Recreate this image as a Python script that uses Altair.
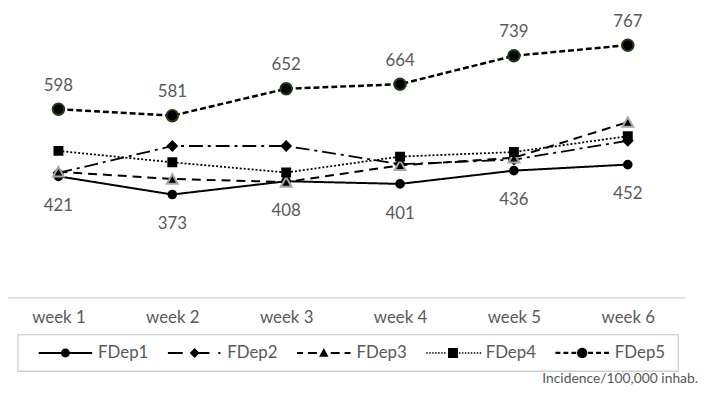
import altair as alt
import pandas as pd

# ---------------- data ----------------
weeks = ["week 1", "week 2", "week 3", "week 4", "week 5", "week 6"]
series = ["FDep1", "FDep2", "FDep3", "FDep4", "FDep5"]
fdep1 = [421, 373, 408, 401, 436, 452]
fdep2 = [430, 501, 501, 453, 465, 515]
fdep3 = [433, 414, 406, 450, 470, 564]
fdep4 = [488, 458, 431, 473, 485, 527]
fdep5 = [598, 581, 652, 664, 739, 767]
labelled_low = "FDep1"
labelled_high = "FDep5"
unit_note = "Incidence/100,000 inhab."

rows = []
for s, vals in zip(series, [fdep1, fdep2, fdep3, fdep4, fdep5]):
    for w, v in zip(weeks, vals):
        rows.append({"series": s, "week": w, "value": v})
df = pd.DataFrame(rows)
one = pd.DataFrame({"k": [0]})

# ---------------- styles ----------------
FONT = "Lato"
TXT = "#595959"
W, H = 677, 268
TOP = 23

line_style = {
    "FDep1": dict(strokeDash=[1, 0], strokeWidth=2),
    "FDep2": dict(strokeDash=[14, 5, 3, 5], strokeWidth=1.8),
    "FDep3": dict(strokeDash=[9, 6], strokeWidth=2),
    "FDep4": dict(strokeDash=[2, 2], strokeWidth=1.8),
    "FDep5": dict(strokeDash=[6, 3], strokeWidth=2.5),
}
point_style = {
    "FDep1": dict(shape="circle", size=60, stroke="black"),
    "FDep2": dict(shape="diamond", size=85, stroke="black"),
    "FDep3": dict(shape="triangle-up", size=120, stroke="#a6a6a6"),
    "FDep4": dict(shape="square", size=64, stroke="black"),
    "FDep5": dict(shape="circle", size=135, stroke="#1f3d14"),
}

# legend symbols: custom filled paths (line sample + marker), 54px wide
S = 54.0
u = 2.0 / S


def px(x):
    return x * u - 1.0


def bar(a, b, t=2.0):
    h = t / 2.0 * u
    return (f"M{px(a):.4f},{-h:.4f}L{px(b):.4f},{-h:.4f}"
            f"L{px(b):.4f},{h:.4f}L{px(a):.4f},{h:.4f}Z")


def circle(r):
    r = r * u
    return f"M{-r:.4f},0A{r:.4f},{r:.4f} 0 1,1 {r:.4f},0A{r:.4f},{r:.4f} 0 1,1 {-r:.4f},0Z"


def diamond(r):
    r = r * u
    return f"M0,{-r:.4f}L{r:.4f},0L0,{r:.4f}L{-r:.4f},0Z"


def triangle(r):
    r = r * u
    return f"M0,{-r:.4f}L{r*0.95:.4f},{r*0.75:.4f}L{-r*0.95:.4f},{r*0.75:.4f}Z"


def square(r):
    r = r * u
    return f"M{-r:.4f},{-r:.4f}L{r:.4f},{-r:.4f}L{r:.4f},{r:.4f}L{-r:.4f},{r:.4f}Z"


leg1 = bar(0, 54) + circle(4.5)
leg2 = bar(0, 15) + bar(27, 42) + bar(51, 53) + diamond(5)
leg3 = bar(0, 6) + bar(11, 20) + bar(34, 43) + bar(48, 54) + triangle(5)
leg4 = "".join(bar(x, x + 1.5, 1.6) for x in range(0, 55, 3) if not 20 < x < 33) + square(5)
leg5 = (bar(0, 5, 2.4) + bar(8, 13, 2.4) + bar(16, 21, 2.4)
        + bar(33, 38, 2.4) + bar(41, 46, 2.4) + bar(49, 54, 2.4) + circle(5.2))
legend_paths = [leg1, leg2, leg3, leg4, leg5]

x_enc = alt.X(
    "week:N",
    sort=weeks,
    scale=alt.Scale(type="point", padding=0.443),
    axis=alt.Axis(
        title=None, domain=False, ticks=False, grid=False, labelAngle=0,
        labelFont=FONT, labelFontSize=17, labelColor=TXT, labelPadding=12,
    ),
)
y_enc = alt.Y("value:Q", scale=alt.Scale(domain=[100, 800], zero=False, nice=False), axis=None)

base = alt.Chart(df)

# positions below the plot, in plot coordinates (page y minus 8 minus TOP)
BOX_T, BOX_B = 336 - 8 - TOP, 373 - 8 - TOP
ROW_C = (BOX_T + BOX_B) / 2.0

layers = []
# axis base line
layers.append(
    alt.Chart(one).mark_rule(color="#d9d9d9", strokeWidth=1.5).encode(
        x=alt.value(0), x2=alt.value(684), y=alt.value(H)
    )
)
# legend box
layers.append(
    alt.Chart(one).mark_rect(fill="white", fillOpacity=0, stroke="#d0d0d0", strokeWidth=1.3).encode(
        x=alt.value(10), x2=alt.value(677), y=alt.value(BOX_T), y2=alt.value(BOX_B)
    )
)
for s in series:
    layers.append(
        base.transform_filter(alt.datum.series == s)
        .mark_line(color="black", **line_style[s])
        .encode(x=x_enc, y=y_enc)
    )
for s in series:
    layers.append(
        base.transform_filter(alt.datum.series == s)
        .mark_point(filled=True, fill="black", strokeWidth=2, opacity=1, **point_style[s])
        .encode(x=x_enc, y=y_enc)
    )
# data labels
layers.append(
    base.transform_filter(alt.datum.series == labelled_high)
    .mark_text(dy=-18.5, baseline="alphabetic", font=FONT, fontSize=17, color=TXT)
    .encode(x=x_enc, y=y_enc, text="value:Q")
)
layers.append(
    base.transform_filter(alt.datum.series == labelled_low)
    .mark_text(dy=35, baseline="alphabetic", font=FONT, fontSize=17, color=TXT)
    .encode(x=x_enc, y=y_enc, text="value:Q")
)
# legend (via shape scale with custom symbol paths)
layers.append(
    base.transform_filter("false")
    .mark_point(filled=True, fill="black", opacity=1)
    .encode(
        x=x_enc,
        y=y_enc,
        shape=alt.Shape(
            "series:N",
            scale=alt.Scale(domain=series, range=legend_paths),
            legend=alt.Legend(
                title=None, orient="none", legendX=31, legendY=ROW_C - 27,
                direction="horizontal", columns=5, columnPadding=19.5,
                labelFont=FONT, labelFontSize=17, labelColor=TXT, labelOffset=6,
                symbolSize=S * S, symbolStrokeWidth=0,
                symbolFillColor="black", symbolOpacity=1, padding=0,
            ),
        ),
    )
)
# unit note
layers.append(
    alt.Chart(one).mark_text(
        text=unit_note, align="right", baseline="alphabetic", font=FONT, fontSize=14, color=TXT
    ).encode(x=alt.value(697), y=alt.value(385 - 8 - TOP))
)

chart = (
    alt.layer(*layers)
    .properties(
        width=W, height=H,
        autosize=alt.AutoSizeParams(type="none"),
        padding={"left": 0, "top": TOP, "right": 22, "bottom": 379 - TOP - H},
    )
    .configure_view(stroke=None)
)

chart.save("out.html", embed_options={"renderer": "svg", "actions": False})
